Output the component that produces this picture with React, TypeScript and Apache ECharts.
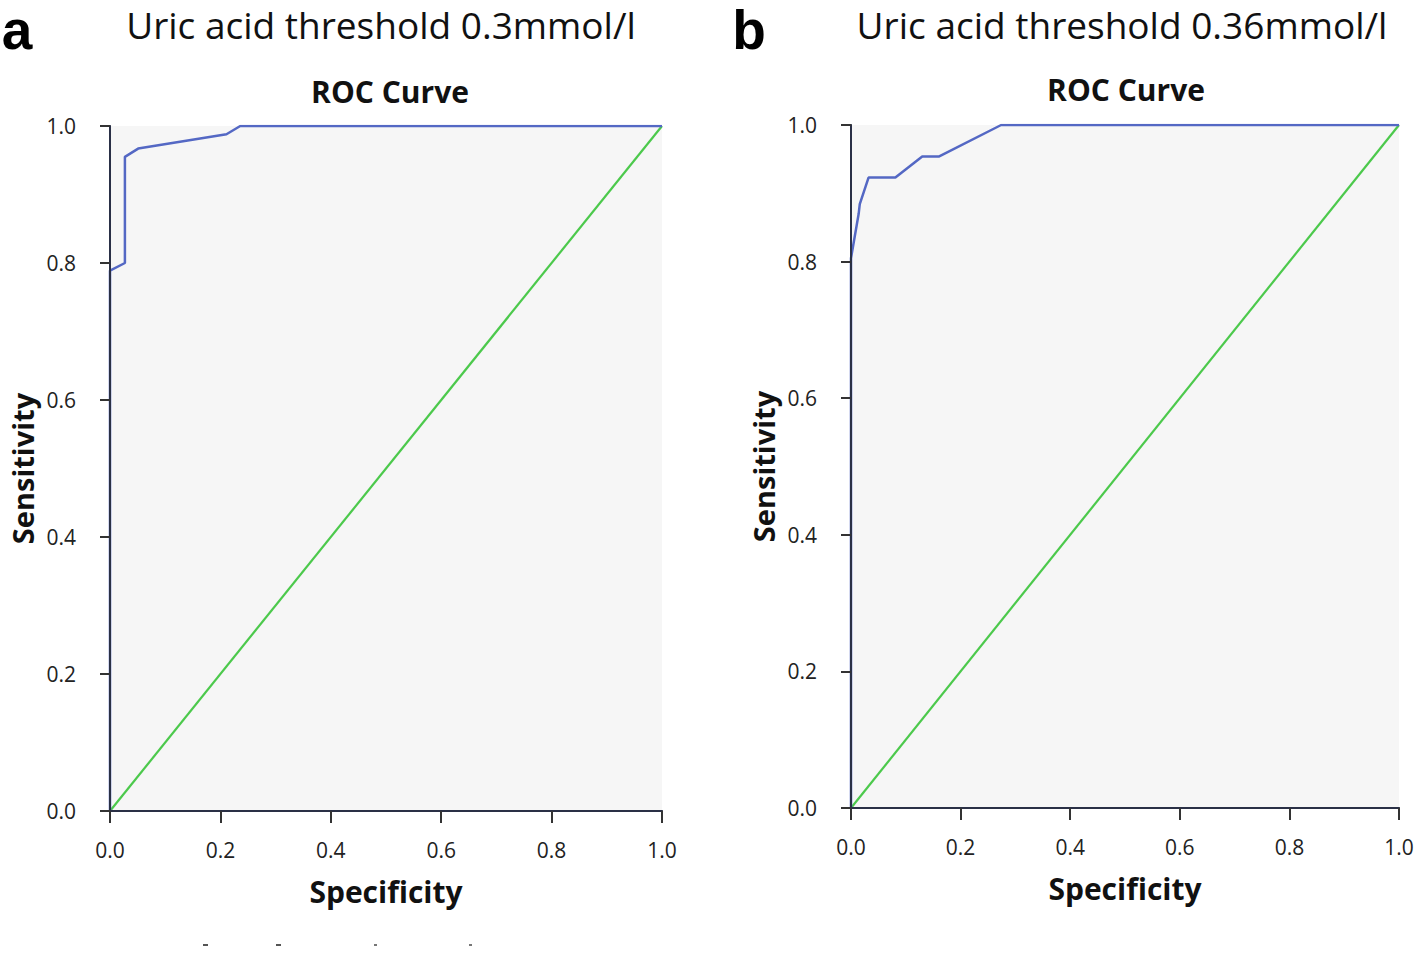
import React, { useEffect, useRef } from "react";
import * as echarts from "echarts";

const panelLetters = ["a", "b"];
const panelTitles = ["Uric acid threshold 0.3mmol/l", "Uric acid threshold 0.36mmol/l"];
const chartTitle = "ROC Curve";
const xName = "Specificity";
const yName = "Sensitivity";
const tickValues = [0, 0.2, 0.4, 0.6, 0.8, 1.0];

// Panel a curve
const specA = [0, 0, 0.027, 0.027, 0.051, 0.211, 0.236, 1];
const sensA = [0, 0.789, 0.8, 0.955, 0.967, 0.988, 1, 1];
// Panel b curve
const specB = [0, 0, 0.014, 0.016, 0.032, 0.081, 0.13, 0.161, 0.274, 1];
const sensB = [0, 0.805, 0.87, 0.884, 0.923, 0.923, 0.954, 0.954, 1, 1];
// reference diagonal
const diagX = [0, 1];
const diagY = [0, 1];

const FONT = "Open Sans";
const curveColor = "#5468c4";
const diagColor = "#4cc94c";
const axisDark = "#2a3046";
const borderGrey = "#8f8f8f";

export default function App() {
  const ref = useRef<HTMLDivElement>(null);
  useEffect(() => {
    if (!ref.current) return;
    const chart = echarts.init(ref.current, null, { renderer: "svg" });
    const grids = [
      { left: 110, top: 126, width: 552, height: 685 },
      { left: 851, top: 125, width: 548, height: 683 },
    ];
    const fmt = (v: number) => v.toFixed(1);
    const xAxes: any[] = [];
    const yAxes: any[] = [];
    grids.forEach((g, i) => {
      xAxes.push({
        type: "value", gridIndex: i, min: 0, max: 1, interval: 0.2, position: "bottom",
        name: xName, nameLocation: "middle", nameGap: 65,
        nameTextStyle: { fontFamily: FONT, fontWeight: "bold", fontSize: 30, color: "#111" },
        axisLine: { show: true, lineStyle: { color: axisDark, width: 2 } },
        axisTick: { show: true, length: 12, lineStyle: { color: "#333", width: 2 } },
        axisLabel: { formatter: fmt, fontFamily: FONT, fontSize: 21, color: "#222", margin: 28 },
        splitLine: { show: false }, z: 3,
      });
      xAxes.push({
        type: "value", gridIndex: i, min: 0, max: 1, position: "top",
        axisLine: { show: true, lineStyle: { color: borderGrey, width: 2 } },
        axisTick: { show: false }, axisLabel: { show: false }, splitLine: { show: false },
      });
      yAxes.push({
        type: "value", gridIndex: i, min: 0, max: 1, interval: 0.2, position: "left",
        name: yName, nameLocation: "middle", nameGap: 74,
        nameTextStyle: { fontFamily: FONT, fontWeight: "bold", fontSize: 29, lineHeight: 28, color: "#111" },
        axisLine: { show: true, lineStyle: { color: axisDark, width: 2 } },
        axisTick: { show: true, length: 10, lineStyle: { color: "#333", width: 2 } },
        axisLabel: { formatter: fmt, fontFamily: FONT, fontSize: 21, color: "#222", margin: 34 },
        splitLine: { show: false }, z: 3,
      });
      yAxes.push({
        type: "value", gridIndex: i, min: 0, max: 1, position: "right",
        axisLine: { show: true, lineStyle: { color: borderGrey, width: 2 } },
        axisTick: { show: false }, axisLabel: { show: false }, splitLine: { show: false },
      });
    });
    const curves = [
      specA.map((x, k) => [x, sensA[k]]),
      specB.map((x, k) => [x, sensB[k]]),
    ];
    const series: any[] = [];
    grids.forEach((g, i) => {
      series.push({
        type: "line", xAxisIndex: i * 2, yAxisIndex: i * 2,
        data: diagX.map((x, k) => [x, diagY[k]]),
        showSymbol: false, lineStyle: { color: diagColor, width: 2.2 }, z: 2,
      });
      series.push({
        type: "line", xAxisIndex: i * 2, yAxisIndex: i * 2,
        data: curves[i], showSymbol: false,
        lineStyle: { color: curveColor, width: 2.5 }, z: 2,
      });
    });
    const centers = [386, 1126];
    chart.setOption({
      animation: false,
      backgroundColor: "#ffffff",
      grid: grids.map((g) => ({ ...g, show: true, backgroundColor: "#f6f6f6", borderWidth: 0 })),
      xAxis: xAxes,
      yAxis: yAxes,
      series,
      graphic: [
        { type: "text", x: 17, y: 30, style: { text: panelLetters[0], font: "bold 55px 'Liberation Sans'", lineHeight: 40, fill: "#000", align: "center", verticalAlign: "middle" } },
        { type: "text", x: 749, y: 30, style: { text: panelLetters[1], font: "bold 55px 'Liberation Sans'", lineHeight: 40, fill: "#000", align: "center", verticalAlign: "middle" } },
        { type: "text", x: 381, y: 24, style: { text: panelTitles[0], font: `37px '${FONT}'`, lineHeight: 40, fill: "#111", align: "center", verticalAlign: "middle" } },
        { type: "text", x: 1122, y: 24, style: { text: panelTitles[1], font: `37px '${FONT}'`, lineHeight: 40, fill: "#111", align: "center", verticalAlign: "middle" } },
        { type: "text", x: centers[0] + 4, y: 91, style: { text: chartTitle, font: `bold 30px '${FONT}'`, fill: "#111", align: "center", verticalAlign: "middle" } },
        { type: "text", x: centers[1], y: 89, style: { text: chartTitle, font: `bold 30px '${FONT}'`, fill: "#111", align: "center", verticalAlign: "middle" } },
        { type: "rect", shape: { x: 203, y: 944, width: 5, height: 2 }, style: { fill: "#555" } },
        { type: "rect", shape: { x: 276, y: 944, width: 5, height: 2 }, style: { fill: "#555" } },
        { type: "rect", shape: { x: 374, y: 944, width: 3, height: 2 }, style: { fill: "#777" } },
        { type: "rect", shape: { x: 469, y: 944, width: 3, height: 2 }, style: { fill: "#777" } },
      ],
    });
    return () => chart.dispose();
  }, []);
  return <div ref={ref} style={{ position: "fixed", left: 0, top: 0, width: 1418, height: 953 }} />;
}
